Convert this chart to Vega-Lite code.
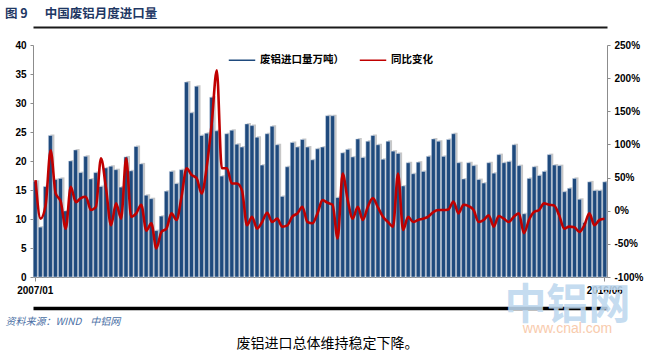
{
  "$schema": "https://vega.github.io/schema/vega-lite/v6.json",
  "width": 574,
  "height": 232,
  "autosize": {"type": "none"},
  "padding": {"left": 33, "top": 45, "right": 46, "bottom": 75},
  "background": "white",
  "config": {"view": {"stroke": null}},
  "title": {
    "text": "图 9\u00a0\u00a0\u00a0\u00a0\u00a0\u00a0中国废铝月度进口量",
    "anchor": "start",
    "frame": "group",
    "dx": -28,
    "offset": 7,
    "font": "Noto Sans CJK SC",
    "fontSize": 12.5,
    "fontWeight": "bold",
    "color": "#1F3864"
  },
  "data": {
    "values": [
      {"m":"2007/01","v":16.5,"y":46},{"m":"2007/02","v":8.6,"y":-12},{"m":"2007/03","v":15.6,"y":8},{"m":"2007/04","v":24.4,"y":91},{"m":"2007/05","v":16.8,"y":26},{"m":"2007/06","v":17.0,"y":14},{"m":"2007/07","v":11.4,"y":-27},{"m":"2007/08","v":20.0,"y":36},{"m":"2007/09","v":21.9,"y":13},{"m":"2007/10","v":18.0,"y":19},{"m":"2007/11","v":20.8,"y":21},{"m":"2007/12","v":16.9,"y":1},
      {"m":"2008/01","v":18.0,"y":6},{"m":"2008/02","v":15.6,"y":79},{"m":"2008/03","v":18.8,"y":34},{"m":"2008/04","v":19.1,"y":-22},{"m":"2008/05","v":18.5,"y":11},{"m":"2008/06","v":15.5,"y":-12},{"m":"2008/07","v":20.7,"y":79},{"m":"2008/08","v":18.3,"y":-9},{"m":"2008/09","v":22.5,"y":-4},{"m":"2008/10","v":19.5,"y":9},{"m":"2008/11","v":14.1,"y":-30},{"m":"2008/12","v":13.5,"y":-19},
      {"m":"2009/01","v":8.0,"y":-57},{"m":"2009/02","v":10.5,"y":-32},{"m":"2009/03","v":14.8,"y":-27},{"m":"2009/04","v":18.2,"y":-4},{"m":"2009/05","v":16.1,"y":-14},{"m":"2009/06","v":18.5,"y":21},{"m":"2009/07","v":33.6,"y":64},{"m":"2009/08","v":28.3,"y":54},{"m":"2009/09","v":32.9,"y":49},{"m":"2009/10","v":24.4,"y":26},{"m":"2009/11","v":24.8,"y":66},{"m":"2009/12","v":31.0,"y":132},
      {"m":"2010/01","v":25.2,"y":212},{"m":"2010/02","v":17.4,"y":64},{"m":"2010/03","v":24.7,"y":64},{"m":"2010/04","v":25.3,"y":41},{"m":"2010/05","v":22.9,"y":41},{"m":"2010/06","v":22.4,"y":31},{"m":"2010/07","v":26.4,"y":-22},{"m":"2010/08","v":26.1,"y":-9},{"m":"2010/09","v":24.1,"y":-27},{"m":"2010/10","v":19.3,"y":-17},{"m":"2010/11","v":24.7,"y":-3},{"m":"2010/12","v":26.0,"y":-17},
      {"m":"2011/01","v":22.8,"y":-12},{"m":"2011/02","v":13.9,"y":-24},{"m":"2011/03","v":19.0,"y":-22},{"m":"2011/04","v":23.2,"y":-9},{"m":"2011/05","v":22.4,"y":-4},{"m":"2011/06","v":23.7,"y":6},{"m":"2011/07","v":22.4,"y":-17},{"m":"2011/08","v":20.2,"y":-19},{"m":"2011/09","v":22.1,"y":-4},{"m":"2011/10","v":22.4,"y":16},{"m":"2011/11","v":27.8,"y":12},{"m":"2011/12","v":27.8,"y":9},
      {"m":"2012/01","v":13.7,"y":-42},{"m":"2012/02","v":21.4,"y":56},{"m":"2012/03","v":22.0,"y":16},{"m":"2012/04","v":20.7,"y":-12},{"m":"2012/05","v":23.8,"y":6},{"m":"2012/06","v":20.6,"y":-14},{"m":"2012/07","v":23.4,"y":6},{"m":"2012/08","v":24.4,"y":19},{"m":"2012/09","v":22.8,"y":5},{"m":"2012/10","v":20.3,"y":-9},{"m":"2012/11","v":23.4,"y":-17},{"m":"2012/12","v":21.7,"y":-24},
      {"m":"2013/01","v":21.3,"y":56},{"m":"2013/02","v":15.7,"y":-29},{"m":"2013/03","v":19.7,"y":-9},{"m":"2013/04","v":17.8,"y":-17},{"m":"2013/05","v":19.8,"y":-14},{"m":"2013/06","v":18.2,"y":-12},{"m":"2013/07","v":20.8,"y":-9},{"m":"2013/08","v":23.8,"y":-2},{"m":"2013/09","v":23.4,"y":1},{"m":"2013/10","v":20.8,"y":1},{"m":"2013/11","v":23.7,"y":2},{"m":"2013/12","v":24.7,"y":14},
      {"m":"2014/01","v":19.7,"y":-4},{"m":"2014/02","v":16.9,"y":9},{"m":"2014/03","v":19.7,"y":7},{"m":"2014/04","v":19.2,"y":1},{"m":"2014/05","v":16.8,"y":-17},{"m":"2014/06","v":16.2,"y":-14},{"m":"2014/07","v":19.7,"y":-7},{"m":"2014/08","v":17.9,"y":-24},{"m":"2014/09","v":21.1,"y":-8},{"m":"2014/10","v":19.7,"y":-12},{"m":"2014/11","v":19.9,"y":-17},{"m":"2014/12","v":22.8,"y":-9},
      {"m":"2015/01","v":19.2,"y":-4},{"m":"2015/02","v":10.9,"y":-34},{"m":"2015/03","v":17.0,"y":-14},{"m":"2015/04","v":19.0,"y":-2},{"m":"2015/05","v":17.5,"y":1},{"m":"2015/06","v":18.2,"y":11},{"m":"2015/07","v":21.1,"y":9},{"m":"2015/08","v":19.3,"y":8},{"m":"2015/09","v":19.2,"y":-7},{"m":"2015/10","v":14.7,"y":-27},{"m":"2015/11","v":15.3,"y":-24},{"m":"2015/12","v":17.0,"y":-25},
      {"m":"2016/01","v":13.4,"y":-32},{"m":"2016/02","v":9.4,"y":-22},{"m":"2016/03","v":16.4,"y":-4},{"m":"2016/04","v":14.9,"y":-22},{"m":"2016/05","v":14.9,"y":-14},{"m":"2016/06","v":16.4,"y":-12}
    ]
  },
  "layer": [
    {
      "mark": {"type": "bar", "color": "#BDBDBD", "opacity": 0.85, "xOffset": 2, "yOffset": -1, "clip": true},
      "encoding": {
        "x": {
          "field": "m", "type": "ordinal", "sort": null,
          "scale": {"paddingInner": 0.2, "paddingOuter": 0.05},
          "axis": {
            "orient": "bottom", "offset": 31, "labels": false, "ticks": false,
            "domain": true, "domainColor": "#000000", "domainWidth": 3.5,
            "title": "资料来源：WIND\u00a0\u00a0\u00a0\u00a0中铝网",
            "titleFont": "Noto Sans CJK SC", "titleFontSize": 10, "titleFontWeight": "normal", "titleFontStyle": "italic",
            "titleColor": "#4A6FA5", "titleAnchor": "start", "titleAlign": "left", "titleX": -28, "titleY": 16, "titleBaseline": "alphabetic"
          }
        },
        "y": {"field": "v", "type": "quantitative", "scale": {"domain": [0, 40], "nice": false}, "axis": null}
      }
    },
    {
      "mark": {"type": "bar", "stroke": "#D6E0EE", "strokeWidth": 0.5},
      "encoding": {
        "x": {
          "field": "m", "type": "ordinal", "sort": null,
          "scale": {"paddingInner": 0.2, "paddingOuter": 0.05},
          "axis": {
            "orient": "bottom", "values": ["2007/01", "2016/06"], "labelAngle": 0,
            "labelFont": "Liberation Sans", "labelFontWeight": "bold", "labelFontSize": 10, "labelColor": "#000000", "labelPadding": 4,
            "domainColor": "#8C8C8C", "tickColor": "#8C8C8C", "tickSize": 4,
            "title": "废铝进口总体维持稳定下降。",
            "titleFont": "Noto Sans CJK SC", "titleFontSize": 14, "titleFontWeight": "normal", "titleColor": "#000000",
            "titleAnchor": "start", "titleAlign": "center", "titleX": 294, "titleY": 70, "titleBaseline": "alphabetic"
          }
        },
        "y": {
          "field": "v", "type": "quantitative",
          "scale": {"domain": [0, 40], "nice": false},
          "axis": {
            "orient": "left", "values": [0, 5, 10, 15, 20, 25, 30, 35, 40], "grid": false,
            "labelFont": "Liberation Sans", "labelFontWeight": "bold", "labelFontSize": 10, "labelColor": "#000000", "labelPadding": 4,
            "domainColor": "#8C8C8C", "tickColor": "#8C8C8C", "tickSize": 3,
            "title": "中铝网", "titleAngle": 0, "titleFont": "Noto Sans CJK SC", "titleFontSize": 42, "titleFontWeight": "bold",
            "titleColor": "#BDD7EE", "titleOpacity": 0.9, "titleAlign": "center", "titleBaseline": "alphabetic", "titleX": 534, "titleY": 273
          }
        },
        "color": {
          "datum": "废铝进口量万吨）",
          "scale": {"domain": ["废铝进口量万吨）", "同比变化"], "range": ["#1F4A7D", "#C00000"]},
          "legend": {
            "orient": "none", "legendX": 195, "legendY": 1, "direction": "horizontal", "title": null,
            "symbolType": "stroke", "symbolSize": 700, "columnPadding": 12,
            "labelFont": "Noto Sans CJK SC", "labelFontWeight": "bold", "labelFontSize": 10.5, "labelColor": "#000000",
            "encode": {
              "symbols": {
                "update": {
                  "stroke": {"scale": "color", "field": "value"},
                  "strokeWidth": {"signal": "datum.value === '同比变化' ? 2.5 : 7"}
                }
              }
            }
          }
        }
      }
    },
    {
      "mark": {"type": "line", "strokeWidth": 2.6, "interpolate": "monotone"},
      "encoding": {
        "x": {
          "field": "m", "type": "ordinal", "sort": null,
          "scale": {"paddingInner": 0.2, "paddingOuter": 0.05},
          "axis": {"orient": "top", "offset": 18, "labels": false, "ticks": false,
            "domain": true, "domainColor": "#1A1A1A", "domainWidth": 2, "title": null}
        },
        "y": {
          "field": "y", "type": "quantitative",
          "scale": {"domain": [-100, 250], "nice": false},
          "axis": {
            "orient": "right", "values": [-100, -50, 0, 50, 100, 150, 200, 250], "grid": false,
            "labelExpr": "datum.value + '%'",
            "labelFont": "Liberation Sans", "labelFontWeight": "bold", "labelFontSize": 10, "labelColor": "#000000", "labelPadding": 4,
            "domainColor": "#8C8C8C", "tickColor": "#8C8C8C", "tickSize": 3,
            "title": "www.cnal.com", "titleAngle": 0, "titleFont": "Liberation Sans", "titleFontSize": 14, "titleFontWeight": "normal",
            "titleColor": "#F8CBAD", "titleAlign": "center", "titleBaseline": "alphabetic", "titleX": -40, "titleY": 287
          }
        },
        "color": {"datum": "同比变化"}
      }
    }
  ],
  "resolve": {"scale": {"x": "independent", "y": "independent"}}
}
